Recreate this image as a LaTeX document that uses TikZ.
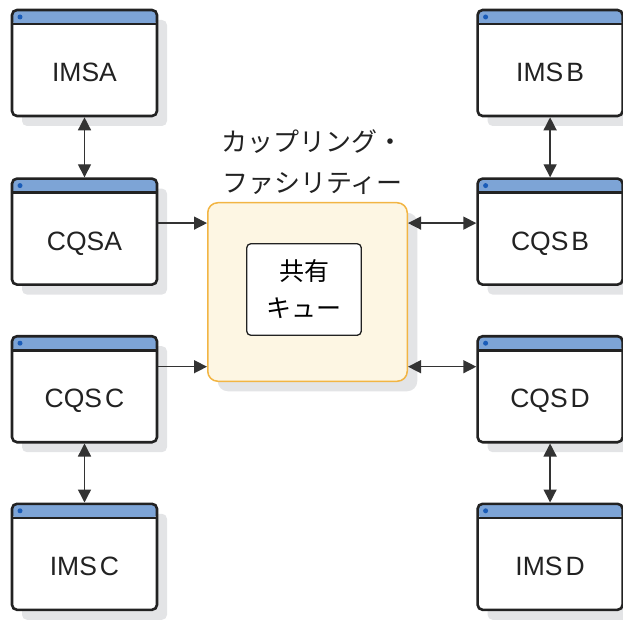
\documentclass[tikz,border=0pt]{standalone}
\usepackage{fontspec}
\setmainfont{Liberation Sans}
\newfontfamily\jp{Noto Sans CJK JP}
\usetikzlibrary{arrows.meta, positioning, shadows}

\definecolor{winline}{HTML}{222222}
\definecolor{titlebar}{HTML}{7DA4D6}
\definecolor{dotblue}{HTML}{1A5CB8}
\definecolor{shade}{HTML}{E3E4E6}
\definecolor{cffill}{HTML}{FDF6E3}
\definecolor{cfline}{HTML}{F2B544}
\definecolor{arrowgray}{HTML}{333333}

\newcommand\winfont{\fontsize{26.5}{30}\selectfont\spaceskip=3pt\relax}

\begin{document}
\begin{tikzpicture}[
    x=1pt, y=1pt,
    >={Triangle[length=13pt,width=13pt]},
    window/.style={
        draw=winline,
        line width=2.6pt,
        rounded corners=5pt,
        fill=white,
        minimum width=145pt,
        minimum height=106pt,
        inner sep=0pt,
        text height=37pt,
        text depth=0pt,
        text=winline,
        font=\winfont,
        general shadow={fill=shade, shadow xshift=10pt, shadow yshift=-10pt},
        path picture={
            \fill[titlebar] (path picture bounding box.north west)
                rectangle ([yshift=-14pt]path picture bounding box.north east);
            \draw[winline, line width=2.6pt]
                ([yshift=-14pt]path picture bounding box.north west)
                -- ([yshift=-14pt]path picture bounding box.north east);
            \fill[dotblue] ([xshift=8pt,yshift=-7pt]path picture bounding box.north west) circle (2.5pt);
        }
    },
    facility/.style={
        draw=cfline,
        line width=1.5pt,
        rounded corners=10pt,
        fill=cffill,
        minimum width=199.5pt,
        minimum height=178.5pt,
        general shadow={fill=shade, shadow xshift=10pt, shadow yshift=-10pt}
    },
    queue/.style={
        draw=winline,
        line width=1.3pt,
        rounded corners=4pt,
        fill=white,
        minimum width=114.5pt,
        minimum height=91.5pt,
        align=center,
        font=\jp\fontsize{25}{37}\selectfont
    },
    arrow/.style={->, line width=1.4pt, draw=arrowgray, fill=arrowgray},
    biarrow/.style={<->, line width=1.4pt, draw=arrowgray, fill=arrowgray}
]
\useasboundingbox (0,0) rectangle (623,622);

% ------------------------
% Left column
% ------------------------
\node[window] (imsa) at (84.5,559) {IMSA};
\node[window] (cqsa) [below=60pt of imsa] {CQSA};
\node[window] (cqsc) [below=49pt of cqsa] {CQS C};
\node[window] (imsc) [below=59pt of cqsc] {IMS C};

% ------------------------
% Right column
% ------------------------
\node[window] (imsb) [right=318pt of imsa] {IMS B};
\node[window] (cqsb) [below=60pt of imsb] {CQS B};
\node[window] (cqsd) [below=49pt of cqsb] {CQS D};
\node[window] (imsd) [below=59pt of cqsd] {IMS D};

% ------------------------
% Coupling facility
% ------------------------
\node[facility] (cf) at (307.5,330) {};
\node[queue] (sq) at (304,332.5) {共有\\キュー};
\node (cflabel) [above=4pt of cf, xshift=5pt, align=center,
    font=\jp\fontsize{26}{41}\selectfont, text=winline] {カップリング・\\ファシリティー};

% ------------------------
% Arrows
% ------------------------
\draw[biarrow] (imsa) -- (cqsa);
\draw[biarrow] (cqsc) -- (imsc);
\draw[biarrow] (imsb) -- (cqsb);
\draw[biarrow] (cqsd) -- (imsd);
\draw[arrow] ([yshift=8.5pt]cqsa.east) -- ([yshift=8.5pt]cqsa.east -| cf.west);
\draw[arrow] ([yshift=22.5pt]cqsc.east) -- ([yshift=22.5pt]cqsc.east -| cf.west);
\draw[biarrow] ([yshift=8.5pt]cqsb.west -| cf.east) -- ([yshift=8.5pt]cqsb.west);
\draw[biarrow] ([yshift=22.5pt]cqsd.west -| cf.east) -- ([yshift=22.5pt]cqsd.west);

\end{tikzpicture}
\end{document}
